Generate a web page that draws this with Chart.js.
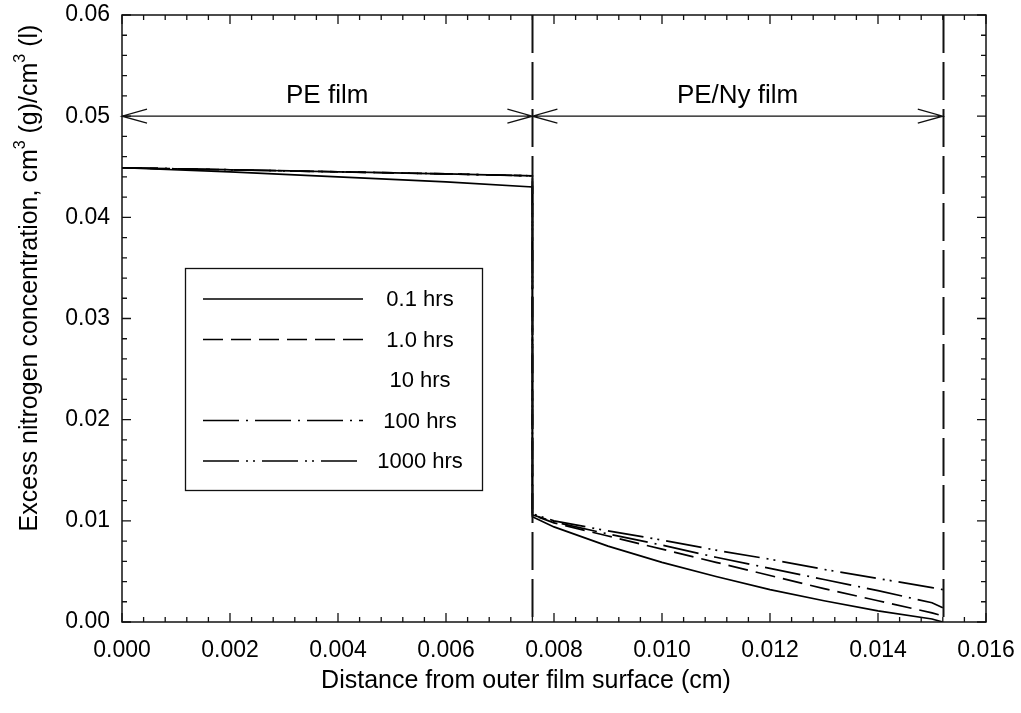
<!DOCTYPE html>
<html>
<head>
<meta charset="utf-8">
<script src="https://cdn.jsdelivr.net/npm/chart.js@4.4.0/dist/chart.umd.min.js"></script>
<style>
html,body{margin:0;padding:0;background:#fff;}
#wrap{width:1021px;height:713px;position:relative;}
</style>
</head>
<body>
<div id="wrap"><canvas id="profileChart"></canvas></div>
<script>
// distance from outer surface (cm); 0.0076 twice = the PE / PE-Ny interface jump
const distance=[0,0.002,0.004,0.006,0.0076,0.0076,0.008,0.009,0.010,0.011,0.012,0.013,0.014,0.015,0.0152];
const hrs0_1 =[0.0449,0.0445,0.0440,0.0435,0.0430,0.0104,0.0094,0.0075,0.0059,0.0045,0.0032,0.0021,0.0011,0.0003,0.0000];
const hrs1   =[0.0449,0.0447,0.0445,0.0443,0.0441,0.0106,0.0098,0.0085,0.0072,0.0059,0.0046,0.0033,0.0021,0.0009,0.0006];
const hrs10  =[0.0449,0.0447,0.0445,0.0443,0.0441,0.0106,0.0098,0.0086,0.0074,0.0062,0.0050,0.0038,0.0026,0.0014,0.0010];
const hrs100 =[0.0449,0.0447,0.0445,0.0443,0.0441,0.0106,0.0099,0.0087,0.0076,0.0064,0.0053,0.0042,0.0031,0.0019,0.0014];
const hrs1000=[0.0449,0.0447,0.0445,0.0443,0.0441,0.0107,0.0100,0.0090,0.0081,0.0071,0.0062,0.0052,0.0043,0.0034,0.0032];
const seriesLabels=['0.1 hrs','1.0 hrs','10 hrs','100 hrs','1000 hrs'];

const layerBounds=[0,0.0076,0.0152];
const layerNames=['PE film','PE/Ny film'];
const arrowLevel=0.05;

const xTitle='Distance from outer film surface (cm)';
const yTitle=[['Excess nitrogen concentration, cm',0],['3',1],[' (g)/cm',0],['3',1],[' (l)',0]];

const FONT='"Liberation Sans", Arial, sans-serif';
const dashes=[[],[20,8],[],[36,7,2,7],[36,7,2,5,2,7]];
const colors=['#000','#000','rgba(0,0,0,0)','#000','#000'];

function pts(vals){
    return vals.map((v,i)=>({x:distance[i],y:v}));
}

const extras={
    id:'extras',
    afterDatasetsDraw(chart){
        const ctx=chart.ctx;
        const xs=chart.scales.x, ys=chart.scales.y;
        const a=chart.chartArea;
        ctx.save();
        ctx.strokeStyle='#111';
        ctx.fillStyle='#000';

        // frame
        ctx.lineWidth=1.5;
        ctx.strokeRect(a.left,a.top,a.right-a.left,a.bottom-a.top);

        // inward ticks on all four sides
        ctx.lineWidth=1.3;
        ctx.beginPath();
        for(let i=0;i<=40;i++){
            let px=xs.getPixelForValue(i*0.0004);
            let len=(i%5==0)?9:5;
            ctx.moveTo(px,a.bottom);ctx.lineTo(px,a.bottom-len);
            ctx.moveTo(px,a.top);ctx.lineTo(px,a.top+len);
        }
        for(let i=0;i<=30;i++){
            let py=ys.getPixelForValue(i*0.002);
            let len=(i%5==0)?9:5;
            ctx.moveTo(a.left,py);ctx.lineTo(a.left+len,py);
            ctx.moveTo(a.right,py);ctx.lineTo(a.right-len,py);
        }
        ctx.stroke();

        // interface lines
        ctx.lineWidth=2;
        ctx.setLineDash([38,9]);
        ctx.beginPath();
        [layerBounds[1],layerBounds[2]].forEach(v=>{
            let px=Math.round(xs.getPixelForValue(v))+0.5;
            ctx.moveTo(px,a.top);ctx.lineTo(px,a.bottom);
        });
        ctx.stroke();
        ctx.setLineDash([]);

        // layer arrows
        let ay=ys.getPixelForValue(arrowLevel);
        ctx.lineWidth=1.3;
        ctx.beginPath();
        ctx.moveTo(xs.getPixelForValue(layerBounds[0]),ay);
        ctx.lineTo(xs.getPixelForValue(layerBounds[2]),ay);
        for(let i=0;i<2;i++){
            let l=xs.getPixelForValue(layerBounds[i]);
            let r=xs.getPixelForValue(layerBounds[i+1]);
            ctx.moveTo(l+25,ay-7);ctx.lineTo(l,ay);ctx.lineTo(l+25,ay+7);
            ctx.moveTo(r-25,ay-7);ctx.lineTo(r,ay);ctx.lineTo(r-25,ay+7);
        }
        ctx.stroke();
        ctx.font='26px '+FONT;
        ctx.textAlign='center';
        ctx.textBaseline='alphabetic';
        for(let i=0;i<2;i++){
            let cx=(xs.getPixelForValue(layerBounds[i])+xs.getPixelForValue(layerBounds[i+1]))/2;
            ctx.fillText(layerNames[i],cx,ay-13);
        }

        // legend box
        ctx.lineWidth=1.3;
        ctx.fillStyle='#fff';
        ctx.fillRect(185,268,297,222);
        ctx.strokeRect(185.5,268.5,297,222);
        ctx.fillStyle='#000';
        ctx.font='22px '+FONT;
        ctx.textBaseline='middle';
        chart.data.datasets.forEach((ds,i)=>{
            let y=299+i*40.5;
            ctx.strokeStyle=ds.borderColor;
            ctx.lineWidth=ds.borderWidth;
            ctx.setLineDash(ds.borderDash||[]);
            ctx.beginPath();
            ctx.moveTo(203,y);ctx.lineTo(363,y);
            ctx.stroke();
            ctx.setLineDash([]);
            ctx.fillText(ds.label,420,y+1);
        });

        // axis titles
        ctx.font='25px '+FONT;
        ctx.textAlign='center';
        ctx.fillText(xTitle,526,681);

        ctx.translate(30,278);
        ctx.rotate(-Math.PI/2);
        const big='25px '+FONT, small='16px '+FONT;
        let total=0;
        yTitle.forEach(p=>{ctx.font=p[1]?small:big;total+=ctx.measureText(p[0]).width;});
        let x=-total/2;
        ctx.textAlign='left';
        yTitle.forEach(p=>{
            ctx.font=p[1]?small:big;
            ctx.fillText(p[0],x,p[1]?-9:0);
            x+=ctx.measureText(p[0]).width;
        });
        ctx.restore();
    }
};

new Chart(document.getElementById('profileChart'),{
    type:'line',
    data:{
        datasets:[hrs0_1,hrs1,hrs10,hrs100,hrs1000].map((vals,i)=>({
            label:seriesLabels[i],
            data:pts(vals),
            borderColor:colors[i],
            borderWidth:1.7,
            borderDash:dashes[i],
            pointRadius:0,
            tension:0,
            fill:false
        }))
    },
    options:{
        responsive:true,
        maintainAspectRatio:false,
        animation:false,
        layout:{padding:{top:15,right:35,left:0,bottom:0}},
        plugins:{legend:{display:false},tooltip:{enabled:false}},
        scales:{
            x:{
                type:'linear',
                min:0,max:0.016,
                grid:{display:false,drawTicks:false},
                border:{display:false},
                afterFit:s=>{s.height=91;s.paddingLeft=0;s.paddingRight=0;},
                ticks:{
                    stepSize:0.002,
                    autoSkip:false,
                    maxRotation:0,
                    padding:15,
                    color:'#000',
                    font:{family:FONT,size:23},
                    callback:v=>v.toFixed(3)
                }
            },
            y:{
                min:0,max:0.06,
                grid:{display:false,drawTicks:false},
                border:{display:false},
                afterFit:s=>{s.width=122;s.paddingTop=0;s.paddingBottom=0;},
                ticks:{
                    stepSize:0.01,
                    padding:12,
                    color:'#000',
                    font:{family:FONT,size:23},
                    callback:v=>v.toFixed(2)
                }
            }
        }
    },
    plugins:[extras]
});
</script>
</body>
</html>
